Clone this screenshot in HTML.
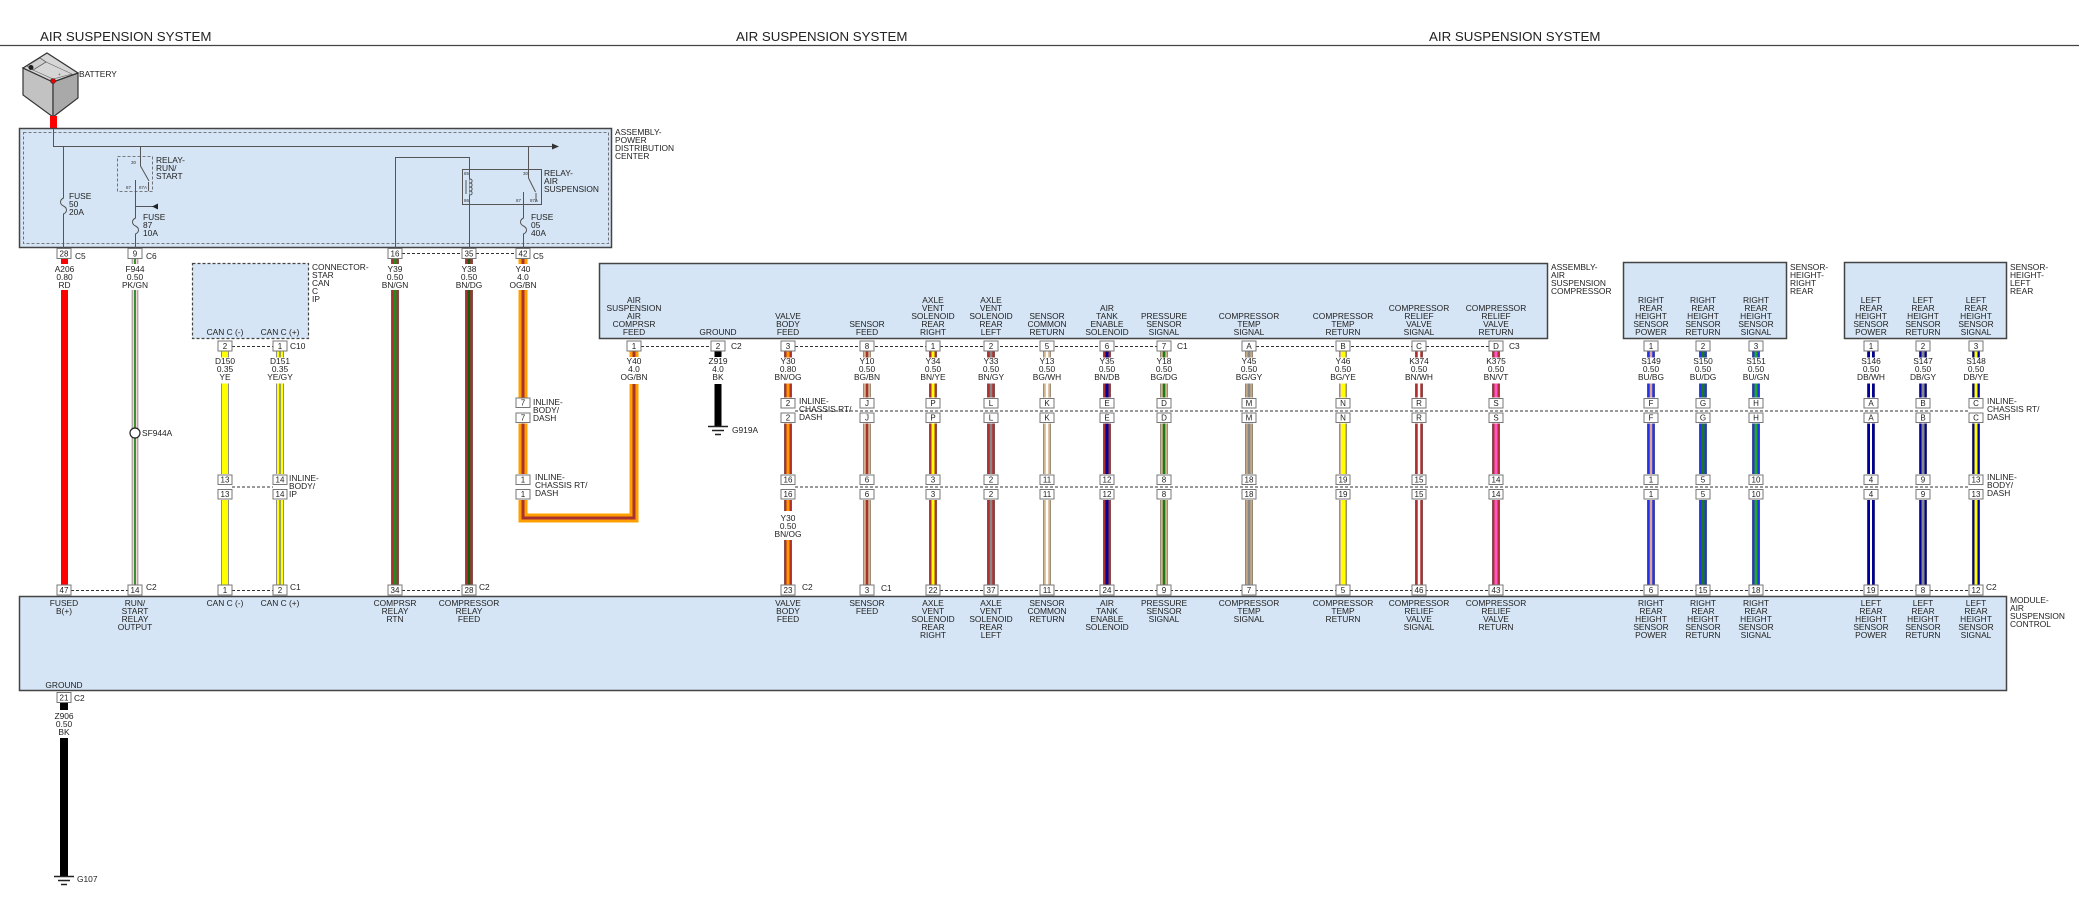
<!DOCTYPE html>
<html><head><meta charset="utf-8"><style>
html,body{margin:0;padding:0;background:#fff;}
body{width:2079px;height:897px;overflow:hidden;}
svg{display:block;}
.t{font-family:"Liberation Sans",Arial,sans-serif;font-size:8.4px;fill:#222;}
.m{text-anchor:middle;}
.p{font-family:"Liberation Sans",Arial,sans-serif;font-size:8px;fill:#222;text-anchor:middle;}
.s{font-family:"Liberation Sans",Arial,sans-serif;font-size:4.5px;fill:#333;}
.ti{font-family:"Liberation Sans",Arial,sans-serif;font-size:13.3px;fill:#222;}
.pb{fill:#fff;stroke:#777;stroke-width:1;}
.ds{stroke:#333;stroke-width:1;stroke-dasharray:3 2;fill:none;}
.bx{fill:#d5e5f5;stroke:#444;stroke-width:1.5;}
.ln{stroke:#555;stroke-width:1;fill:none;}
.o{stroke:#666;stroke-width:8;fill:none;}
</style></head><body>
<svg width="2079" height="897" viewBox="0 0 2079 897" xmlns="http://www.w3.org/2000/svg">
<!-- titles -->
<text class="ti" x="40" y="41">AIR SUSPENSION SYSTEM</text>
<text class="ti" x="736" y="41">AIR SUSPENSION SYSTEM</text>
<text class="ti" x="1429" y="41">AIR SUSPENSION SYSTEM</text>
<line x1="0" y1="45.5" x2="2079" y2="45.5" stroke="#444" stroke-width="1.2"/>

<!-- battery -->
<polygon points="23,68 23,95 53,117 53,82" fill="#c2c2c2" stroke="#333" stroke-width="1.2"/>
<polygon points="53,82 53,117 78,98 78,73" fill="#a9a9a9" stroke="#333" stroke-width="1.2"/>
<polygon points="23,68 47,53 78,73 53,82" fill="#d6d6d6" stroke="#333" stroke-width="1.2"/>
<polygon points="27,66 40,58 46,62 33,70" fill="#cfcfcf" stroke="#444" stroke-width="0.7"/>
<polygon points="33,70 46,62 72,74 53,79" fill="none" stroke="#666" stroke-width="0.6"/>
<circle cx="31" cy="67.5" r="2.5" fill="#222"/>
<circle cx="53" cy="81" r="2.5" fill="#e00" stroke="#333" stroke-width="0.6"/>
<text class="s" x="58" y="76">+</text>
<text class="t" x="79" y="77">BATTERY</text>
<rect x="50" y="116" width="7" height="13" fill="#f00"/>

<!-- PDC -->
<rect class="bx" x="19.5" y="128.5" width="592" height="119" stroke-width="2"/>
<rect x="23.5" y="132.5" width="585" height="111" fill="none" stroke="#555" stroke-width="0.8" stroke-dasharray="3 2"/>
<path class="ln" d="M53.5,129V146.5H553"/>
<polygon points="552,143.5 559,146.5 552,149.5" fill="#333"/>
<path class="ln" d="M63.5,146.5V198c-4,2 -4,6 0,8c4,2 4,6 0,8V249"/>
<text class="t" x="69" y="199">FUSE<tspan x="69" dy="8">50</tspan><tspan x="69" dy="8">20A</tspan></text>
<!-- run/start relay -->
<rect x="117.5" y="156.5" width="35" height="35" fill="none" stroke="#555" stroke-width="0.8" stroke-dasharray="3 2"/>
<path class="ln" d="M140.5,146.5V166L149,181"/>
<path class="ln" d="M135.5,180V218c-4,2 -4,6 0,8c4,2 4,6 0,8V249"/>
<path class="ln" d="M148.5,182V191"/>
<path class="ln" d="M135.5,206.5H153"/>
<polygon points="152,206.5 158,203.5 158,209.5" fill="#222"/>
<text class="s" x="131" y="164">30</text>
<text class="s" x="126" y="189">87</text>
<text class="s" x="139" y="189">87A</text>
<text class="t" x="156" y="163">RELAY-<tspan x="156" dy="8">RUN/</tspan><tspan x="156" dy="8">START</tspan></text>
<text class="t" x="143" y="220">FUSE<tspan x="143" dy="8">87</tspan><tspan x="143" dy="8">10A</tspan></text>
<!-- air suspension relay -->
<rect x="462.5" y="169.5" width="79" height="35" fill="none" stroke="#555" stroke-width="1"/>
<path class="ln" d="M395.5,249V157.5H469.5V249"/>
<path d="M469.5,179c3.5,0 3.5,4 0,4c3.5,0 3.5,4 0,4c3.5,0 3.5,4 0,4c3.5,0 3.5,4 0,4" fill="#d5e5f5" stroke="#555" stroke-width="0.9"/>
<path class="ln" d="M466,180V194" stroke-width="0.8"/>
<path class="ln" d="M528.5,146.5V178L535.5,192"/>
<path class="ln" d="M523.5,192V218c-4,2 -4,6 0,8c4,2 4,6 0,8V249"/>
<path class="ln" d="M536,193V202"/>
<text class="s" x="464" y="175">85</text>
<text class="s" x="464" y="202">86</text>
<text class="s" x="523" y="175">30</text>
<text class="s" x="516" y="202">87</text>
<text class="s" x="530" y="202">87A</text>
<text class="t" x="544" y="176">RELAY-<tspan x="544" dy="8">AIR</tspan><tspan x="544" dy="8">SUSPENSION</tspan></text>
<text class="t" x="531" y="220">FUSE<tspan x="531" dy="8">05</tspan><tspan x="531" dy="8">40A</tspan></text>
<text class="t" x="615" y="135">ASSEMBLY-<tspan x="615" dy="8">POWER</tspan><tspan x="615" dy="8">DISTRIBUTION</tspan><tspan x="615" dy="8">CENTER</tspan></text>

<!-- other boxes -->
<rect x="192.5" y="263.5" width="116" height="75" fill="#d5e5f5" stroke="#444" stroke-width="1.2" stroke-dasharray="3 2"/>
<rect class="bx" x="599.5" y="263.5" width="948" height="75"/>
<rect class="bx" x="1623.5" y="262.5" width="163" height="76"/>
<rect class="bx" x="1844.5" y="262.5" width="162" height="76"/>
<rect class="bx" x="19.5" y="596.5" width="1987" height="94"/>

<!-- ===== WIRES ===== -->
<rect x="61" y="258" width="7" height="6" fill="#f00"/>
<rect x="61" y="290" width="7" height="295" fill="#f00"/>
<g fill="none">
<path d="M135,258V264M135,290V585" stroke="#777" stroke-width="6.5"/>
<path d="M135,258V264M135,290V585" stroke="#f6d6dc" stroke-width="5"/>
<path d="M135,258V264M135,290V585" stroke="#1e8c1e" stroke-width="1.8"/>
</g>
<circle cx="135" cy="433" r="5" fill="#fff" stroke="#222" stroke-width="1.2"/>
<g fill="none">
<path d="M225,351V585M280,351V585" stroke="#666" stroke-width="7.5"/>
<path d="M225,351V585M280,351V585" stroke="#ffff00" stroke-width="6"/>
<path d="M280,351V585" stroke="#888" stroke-width="1.6"/>
</g>
<rect x="215" y="357.5" width="75" height="26" fill="#fff"/>
<rect x="215" y="474" width="75" height="26" fill="#fff"/>
<g fill="none">
<path d="M395,258V264M395,290V585M469,258V264M469,290V585" stroke="#666" stroke-width="8"/>
<path d="M395,258V264M395,290V585M469,258V264M469,290V585" stroke="#a83232" stroke-width="7"/>
<path d="M395,258V264M395,290V585" stroke="#1e8c1e" stroke-width="3"/>
<path d="M469,258V264M469,290V585" stroke="#0f5f0f" stroke-width="2.5"/>
</g>
<g fill="none" stroke-linejoin="miter">
<path d="M523,258V264M523,290V518H634V384M634,351V357" stroke="#ffa000" stroke-width="9"/>
<path d="M523,258V264M523,290V518H634V384M634,351V357" stroke="#a83232" stroke-width="3"/>
</g>
<rect x="515" y="397.5" width="16" height="26" fill="#fff"/>
<rect x="515" y="474" width="16" height="26" fill="#fff"/>
<path d="M718,351V357M718,384V426" stroke="#000" stroke-width="7" fill="none"/>
<path d="M708,426.5H728M712,430.5H724M715,434.5H721" stroke="#222" stroke-width="1.5"/>
<path d="M64,702V710M64,738V876" stroke="#000" stroke-width="8" fill="none"/>
<path d="M54,876.5H74M58,880.5H70M61,884.5H67" stroke="#222" stroke-width="1.5"/>

<g fill="none">
<path class="o" d="M788,351V585M867,351V585M933,351V585M991,351V585M1047,351V585M1107,351V585M1164,351V585M1249,351V585M1343,351V585M1419,351V585M1496,351V585M1651,351V585M1703,351V585M1756,351V585M1871,351V585M1923,351V585M1976,351V585"/>
<path d="M788,351V585M933,351V585M991,351V585M1107,351V585M1419,351V585M1496,351V585" stroke="#b03030" stroke-width="7"/>
<path d="M867,351V585M1047,351V585M1164,351V585M1343,351V585" stroke="#d2b48c" stroke-width="7"/>
<path d="M1249,351V585" stroke="#c4a886" stroke-width="7"/>
<path d="M1651,351V585M1703,351V585M1756,351V585" stroke="#2233ee" stroke-width="7"/>
<path d="M1871,351V585M1923,351V585M1976,351V585" stroke="#000099" stroke-width="7"/>
<path d="M788,351V585" stroke="#ff9900" stroke-width="3"/>
<path d="M867,351V585" stroke="#a83232" stroke-width="2.5"/>
<path d="M933,351V585" stroke="#ffff00" stroke-width="3"/>
<path d="M991,351V585M1249,351V585" stroke="#888" stroke-width="2.5"/>
<path d="M1047,351V585M1419,351V585" stroke="#fff" stroke-width="2.5"/>
<path d="M1107,351V585" stroke="#000099" stroke-width="3"/>
<path d="M1164,351V585" stroke="#1a7a1a" stroke-width="2.5"/>
<path d="M1343,351V585" stroke="#ffff00" stroke-width="4"/>
<path d="M1496,351V585" stroke="#ff55cc" stroke-width="3"/>
<path d="M1651,351V585" stroke="#e0a88c" stroke-width="2.5"/>
<path d="M1703,351V585" stroke="#1a7a1a" stroke-width="3"/>
<path d="M1756,351V585" stroke="#22aa22" stroke-width="3"/>
<path d="M1871,351V585" stroke="#fff" stroke-width="2"/>
<path d="M1923,351V585" stroke="#888" stroke-width="3"/>
<path d="M1976,351V585" stroke="#ffff00" stroke-width="3"/>
</g>
<rect x="770" y="357.5" width="1220" height="26" fill="#fff"/>
<rect x="770" y="397.5" width="1220" height="26" fill="#fff"/>
<rect x="770" y="474" width="1220" height="26" fill="#fff"/>
<rect x="780" y="511" width="16" height="29" fill="#fff"/>

<!-- ===== DASHED CONNECTOR LINES ===== -->
<path class="ds" d="M402,253.5H462M476,253.5H516"/>
<path class="ds" d="M232,346.5H273M641,346.5H711M795,346.5H1157M1256,346.5H1489"/>
<path class="ds" d="M795,411H1969"/>
<path class="ds" d="M232,487H273M795,487H1969"/>
<path class="ds" d="M71,590.5H128M232,590.5H273M402,590.5H462M940,590.5H1969"/>

<!-- ===== PIN BOXES ===== -->
<rect class="pb" x="57" y="248.5" width="14" height="10"/><text class="p" x="64" y="256.5">28</text>
<rect class="pb" x="128" y="248.5" width="14" height="10"/><text class="p" x="135" y="256.5">9</text>
<rect class="pb" x="388" y="248.5" width="14" height="10"/><text class="p" x="395" y="256.5">16</text>
<rect class="pb" x="462" y="248.5" width="14" height="10"/><text class="p" x="469" y="256.5">35</text>
<rect class="pb" x="516" y="248.5" width="14" height="10"/><text class="p" x="523" y="256.5">42</text>
<text class="t" x="75" y="259">C5</text>
<text class="t" x="146" y="259">C6</text>
<text class="t" x="533" y="259">C5</text>

<g>
<rect class="pb" x="218" y="341" width="14" height="10"/><text class="p" x="225" y="349">2</text>
<rect class="pb" x="273" y="341" width="14" height="10"/><text class="p" x="280" y="349">1</text>
<rect class="pb" x="627" y="341" width="14" height="10"/><text class="p" x="634" y="349">1</text>
<rect class="pb" x="711" y="341" width="14" height="10"/><text class="p" x="718" y="349">2</text>
<rect class="pb" x="781" y="341" width="14" height="10"/><text class="p" x="788" y="349">3</text>
<rect class="pb" x="860" y="341" width="14" height="10"/><text class="p" x="867" y="349">8</text>
<rect class="pb" x="926" y="341" width="14" height="10"/><text class="p" x="933" y="349">1</text>
<rect class="pb" x="984" y="341" width="14" height="10"/><text class="p" x="991" y="349">2</text>
<rect class="pb" x="1040" y="341" width="14" height="10"/><text class="p" x="1047" y="349">5</text>
<rect class="pb" x="1100" y="341" width="14" height="10"/><text class="p" x="1107" y="349">6</text>
<rect class="pb" x="1157" y="341" width="14" height="10"/><text class="p" x="1164" y="349">7</text>
<rect class="pb" x="1242" y="341" width="14" height="10"/><text class="p" x="1249" y="349">A</text>
<rect class="pb" x="1336" y="341" width="14" height="10"/><text class="p" x="1343" y="349">B</text>
<rect class="pb" x="1412" y="341" width="14" height="10"/><text class="p" x="1419" y="349">C</text>
<rect class="pb" x="1489" y="341" width="14" height="10"/><text class="p" x="1496" y="349">D</text>
<rect class="pb" x="1644" y="341" width="14" height="10"/><text class="p" x="1651" y="349">1</text>
<rect class="pb" x="1696" y="341" width="14" height="10"/><text class="p" x="1703" y="349">2</text>
<rect class="pb" x="1749" y="341" width="14" height="10"/><text class="p" x="1756" y="349">3</text>
<rect class="pb" x="1864" y="341" width="14" height="10"/><text class="p" x="1871" y="349">1</text>
<rect class="pb" x="1916" y="341" width="14" height="10"/><text class="p" x="1923" y="349">2</text>
<rect class="pb" x="1969" y="341" width="14" height="10"/><text class="p" x="1976" y="349">3</text>
</g>
<text class="t" x="290" y="349">C10</text>
<text class="t" x="731" y="349">C2</text>
<text class="t" x="1177" y="349">C1</text>
<text class="t" x="1509" y="349">C3</text>

<g>
<rect class="pb" x="516" y="398" width="14" height="9.5"/><text class="p" x="523" y="405.5">7</text>
<rect class="pb" x="516" y="413" width="14" height="9.5"/><text class="p" x="523" y="420.5">7</text>
<rect class="pb" x="781" y="398.5" width="14" height="9.5"/><text class="p" x="788" y="406">2</text>
<rect class="pb" x="781" y="413" width="14" height="9.5"/><text class="p" x="788" y="420.5">2</text>
<rect class="pb" x="860" y="398.5" width="14" height="9.5"/><text class="p" x="867" y="406">J</text>
<rect class="pb" x="860" y="413" width="14" height="9.5"/><text class="p" x="867" y="420.5">J</text>
<rect class="pb" x="926" y="398.5" width="14" height="9.5"/><text class="p" x="933" y="406">P</text>
<rect class="pb" x="926" y="413" width="14" height="9.5"/><text class="p" x="933" y="420.5">P</text>
<rect class="pb" x="984" y="398.5" width="14" height="9.5"/><text class="p" x="991" y="406">L</text>
<rect class="pb" x="984" y="413" width="14" height="9.5"/><text class="p" x="991" y="420.5">L</text>
<rect class="pb" x="1040" y="398.5" width="14" height="9.5"/><text class="p" x="1047" y="406">K</text>
<rect class="pb" x="1040" y="413" width="14" height="9.5"/><text class="p" x="1047" y="420.5">K</text>
<rect class="pb" x="1100" y="398.5" width="14" height="9.5"/><text class="p" x="1107" y="406">E</text>
<rect class="pb" x="1100" y="413" width="14" height="9.5"/><text class="p" x="1107" y="420.5">E</text>
<rect class="pb" x="1157" y="398.5" width="14" height="9.5"/><text class="p" x="1164" y="406">D</text>
<rect class="pb" x="1157" y="413" width="14" height="9.5"/><text class="p" x="1164" y="420.5">D</text>
<rect class="pb" x="1242" y="398.5" width="14" height="9.5"/><text class="p" x="1249" y="406">M</text>
<rect class="pb" x="1242" y="413" width="14" height="9.5"/><text class="p" x="1249" y="420.5">M</text>
<rect class="pb" x="1336" y="398.5" width="14" height="9.5"/><text class="p" x="1343" y="406">N</text>
<rect class="pb" x="1336" y="413" width="14" height="9.5"/><text class="p" x="1343" y="420.5">N</text>
<rect class="pb" x="1412" y="398.5" width="14" height="9.5"/><text class="p" x="1419" y="406">R</text>
<rect class="pb" x="1412" y="413" width="14" height="9.5"/><text class="p" x="1419" y="420.5">R</text>
<rect class="pb" x="1489" y="398.5" width="14" height="9.5"/><text class="p" x="1496" y="406">S</text>
<rect class="pb" x="1489" y="413" width="14" height="9.5"/><text class="p" x="1496" y="420.5">S</text>
<rect class="pb" x="1644" y="398.5" width="14" height="9.5"/><text class="p" x="1651" y="406">F</text>
<rect class="pb" x="1644" y="413" width="14" height="9.5"/><text class="p" x="1651" y="420.5">F</text>
<rect class="pb" x="1696" y="398.5" width="14" height="9.5"/><text class="p" x="1703" y="406">G</text>
<rect class="pb" x="1696" y="413" width="14" height="9.5"/><text class="p" x="1703" y="420.5">G</text>
<rect class="pb" x="1749" y="398.5" width="14" height="9.5"/><text class="p" x="1756" y="406">H</text>
<rect class="pb" x="1749" y="413" width="14" height="9.5"/><text class="p" x="1756" y="420.5">H</text>
<rect class="pb" x="1864" y="398.5" width="14" height="9.5"/><text class="p" x="1871" y="406">A</text>
<rect class="pb" x="1864" y="413" width="14" height="9.5"/><text class="p" x="1871" y="420.5">A</text>
<rect class="pb" x="1916" y="398.5" width="14" height="9.5"/><text class="p" x="1923" y="406">B</text>
<rect class="pb" x="1916" y="413" width="14" height="9.5"/><text class="p" x="1923" y="420.5">B</text>
<rect class="pb" x="1969" y="398.5" width="14" height="9.5"/><text class="p" x="1976" y="406">C</text>
<rect class="pb" x="1969" y="413" width="14" height="9.5"/><text class="p" x="1976" y="420.5">C</text>
</g>

<g>
<rect class="pb" x="218" y="475" width="14" height="9.5"/><text class="p" x="225" y="482.5">13</text>
<rect class="pb" x="218" y="489.5" width="14" height="9.5"/><text class="p" x="225" y="497">13</text>
<rect class="pb" x="273" y="475" width="14" height="9.5"/><text class="p" x="280" y="482.5">14</text>
<rect class="pb" x="273" y="489.5" width="14" height="9.5"/><text class="p" x="280" y="497">14</text>
<rect class="pb" x="516" y="475" width="14" height="9.5"/><text class="p" x="523" y="482.5">1</text>
<rect class="pb" x="516" y="489.5" width="14" height="9.5"/><text class="p" x="523" y="497">1</text>
<rect class="pb" x="781" y="475" width="14" height="9.5"/><text class="p" x="788" y="482.5">16</text>
<rect class="pb" x="781" y="489.5" width="14" height="9.5"/><text class="p" x="788" y="497">16</text>
<rect class="pb" x="860" y="475" width="14" height="9.5"/><text class="p" x="867" y="482.5">6</text>
<rect class="pb" x="860" y="489.5" width="14" height="9.5"/><text class="p" x="867" y="497">6</text>
<rect class="pb" x="926" y="475" width="14" height="9.5"/><text class="p" x="933" y="482.5">3</text>
<rect class="pb" x="926" y="489.5" width="14" height="9.5"/><text class="p" x="933" y="497">3</text>
<rect class="pb" x="984" y="475" width="14" height="9.5"/><text class="p" x="991" y="482.5">2</text>
<rect class="pb" x="984" y="489.5" width="14" height="9.5"/><text class="p" x="991" y="497">2</text>
<rect class="pb" x="1040" y="475" width="14" height="9.5"/><text class="p" x="1047" y="482.5">11</text>
<rect class="pb" x="1040" y="489.5" width="14" height="9.5"/><text class="p" x="1047" y="497">11</text>
<rect class="pb" x="1100" y="475" width="14" height="9.5"/><text class="p" x="1107" y="482.5">12</text>
<rect class="pb" x="1100" y="489.5" width="14" height="9.5"/><text class="p" x="1107" y="497">12</text>
<rect class="pb" x="1157" y="475" width="14" height="9.5"/><text class="p" x="1164" y="482.5">8</text>
<rect class="pb" x="1157" y="489.5" width="14" height="9.5"/><text class="p" x="1164" y="497">8</text>
<rect class="pb" x="1242" y="475" width="14" height="9.5"/><text class="p" x="1249" y="482.5">18</text>
<rect class="pb" x="1242" y="489.5" width="14" height="9.5"/><text class="p" x="1249" y="497">18</text>
<rect class="pb" x="1336" y="475" width="14" height="9.5"/><text class="p" x="1343" y="482.5">19</text>
<rect class="pb" x="1336" y="489.5" width="14" height="9.5"/><text class="p" x="1343" y="497">19</text>
<rect class="pb" x="1412" y="475" width="14" height="9.5"/><text class="p" x="1419" y="482.5">15</text>
<rect class="pb" x="1412" y="489.5" width="14" height="9.5"/><text class="p" x="1419" y="497">15</text>
<rect class="pb" x="1489" y="475" width="14" height="9.5"/><text class="p" x="1496" y="482.5">14</text>
<rect class="pb" x="1489" y="489.5" width="14" height="9.5"/><text class="p" x="1496" y="497">14</text>
<rect class="pb" x="1644" y="475" width="14" height="9.5"/><text class="p" x="1651" y="482.5">1</text>
<rect class="pb" x="1644" y="489.5" width="14" height="9.5"/><text class="p" x="1651" y="497">1</text>
<rect class="pb" x="1696" y="475" width="14" height="9.5"/><text class="p" x="1703" y="482.5">5</text>
<rect class="pb" x="1696" y="489.5" width="14" height="9.5"/><text class="p" x="1703" y="497">5</text>
<rect class="pb" x="1749" y="475" width="14" height="9.5"/><text class="p" x="1756" y="482.5">10</text>
<rect class="pb" x="1749" y="489.5" width="14" height="9.5"/><text class="p" x="1756" y="497">10</text>
<rect class="pb" x="1864" y="475" width="14" height="9.5"/><text class="p" x="1871" y="482.5">4</text>
<rect class="pb" x="1864" y="489.5" width="14" height="9.5"/><text class="p" x="1871" y="497">4</text>
<rect class="pb" x="1916" y="475" width="14" height="9.5"/><text class="p" x="1923" y="482.5">9</text>
<rect class="pb" x="1916" y="489.5" width="14" height="9.5"/><text class="p" x="1923" y="497">9</text>
<rect class="pb" x="1969" y="475" width="14" height="9.5"/><text class="p" x="1976" y="482.5">13</text>
<rect class="pb" x="1969" y="489.5" width="14" height="9.5"/><text class="p" x="1976" y="497">13</text>
</g>

<g>
<rect class="pb" x="57" y="585" width="14" height="10"/><text class="p" x="64" y="593">47</text>
<rect class="pb" x="128" y="585" width="14" height="10"/><text class="p" x="135" y="593">14</text>
<rect class="pb" x="218" y="585" width="14" height="10"/><text class="p" x="225" y="593">1</text>
<rect class="pb" x="273" y="585" width="14" height="10"/><text class="p" x="280" y="593">2</text>
<rect class="pb" x="388" y="585" width="14" height="10"/><text class="p" x="395" y="593">34</text>
<rect class="pb" x="462" y="585" width="14" height="10"/><text class="p" x="469" y="593">28</text>
<rect class="pb" x="781" y="585" width="14" height="10"/><text class="p" x="788" y="593">23</text>
<rect class="pb" x="860" y="585" width="14" height="10"/><text class="p" x="867" y="593">3</text>
<rect class="pb" x="926" y="585" width="14" height="10"/><text class="p" x="933" y="593">22</text>
<rect class="pb" x="984" y="585" width="14" height="10"/><text class="p" x="991" y="593">37</text>
<rect class="pb" x="1040" y="585" width="14" height="10"/><text class="p" x="1047" y="593">11</text>
<rect class="pb" x="1100" y="585" width="14" height="10"/><text class="p" x="1107" y="593">24</text>
<rect class="pb" x="1157" y="585" width="14" height="10"/><text class="p" x="1164" y="593">9</text>
<rect class="pb" x="1242" y="585" width="14" height="10"/><text class="p" x="1249" y="593">7</text>
<rect class="pb" x="1336" y="585" width="14" height="10"/><text class="p" x="1343" y="593">5</text>
<rect class="pb" x="1412" y="585" width="14" height="10"/><text class="p" x="1419" y="593">46</text>
<rect class="pb" x="1489" y="585" width="14" height="10"/><text class="p" x="1496" y="593">43</text>
<rect class="pb" x="1644" y="585" width="14" height="10"/><text class="p" x="1651" y="593">6</text>
<rect class="pb" x="1696" y="585" width="14" height="10"/><text class="p" x="1703" y="593">15</text>
<rect class="pb" x="1749" y="585" width="14" height="10"/><text class="p" x="1756" y="593">18</text>
<rect class="pb" x="1864" y="585" width="14" height="10"/><text class="p" x="1871" y="593">19</text>
<rect class="pb" x="1916" y="585" width="14" height="10"/><text class="p" x="1923" y="593">8</text>
<rect class="pb" x="1969" y="585" width="14" height="10"/><text class="p" x="1976" y="593">12</text>
<rect class="pb" x="57" y="692.5" width="14" height="10"/><text class="p" x="64" y="700.5">21</text>
</g>
<text class="t" x="146" y="590">C2</text>
<text class="t" x="290" y="590">C1</text>
<text class="t" x="479" y="590">C2</text>
<text class="t" x="802" y="590">C2</text>
<text class="t" x="881" y="591">C1</text>
<text class="t" x="1986" y="590">C2</text>
<text class="t" x="74" y="701">C2</text>

<!-- ===== WIRE LABELS ===== -->
<g class="t m">
<text x="64.5" y="272">A206<tspan x="64.5" dy="8">0.80</tspan><tspan x="64.5" dy="8">RD</tspan></text>
<text x="135" y="272">F944<tspan x="135" dy="8">0.50</tspan><tspan x="135" dy="8">PK/GN</tspan></text>
<text x="395" y="272">Y39<tspan x="395" dy="8">0.50</tspan><tspan x="395" dy="8">BN/GN</tspan></text>
<text x="469" y="272">Y38<tspan x="469" dy="8">0.50</tspan><tspan x="469" dy="8">BN/DG</tspan></text>
<text x="523" y="272">Y40<tspan x="523" dy="8">4.0</tspan><tspan x="523" dy="8">OG/BN</tspan></text>
<text x="225" y="364">D150<tspan x="225" dy="8">0.35</tspan><tspan x="225" dy="8">YE</tspan></text>
<text x="280" y="364">D151<tspan x="280" dy="8">0.35</tspan><tspan x="280" dy="8">YE/GY</tspan></text>
<text x="634" y="364">Y40<tspan x="634" dy="8">4.0</tspan><tspan x="634" dy="8">OG/BN</tspan></text>
<text x="718" y="364">Z919<tspan x="718" dy="8">4.0</tspan><tspan x="718" dy="8">BK</tspan></text>
<text x="788" y="364">Y30<tspan x="788" dy="8">0.80</tspan><tspan x="788" dy="8">BN/OG</tspan></text>
<text x="867" y="364">Y10<tspan x="867" dy="8">0.50</tspan><tspan x="867" dy="8">BG/BN</tspan></text>
<text x="933" y="364">Y34<tspan x="933" dy="8">0.50</tspan><tspan x="933" dy="8">BN/YE</tspan></text>
<text x="991" y="364">Y33<tspan x="991" dy="8">0.50</tspan><tspan x="991" dy="8">BN/GY</tspan></text>
<text x="1047" y="364">Y13<tspan x="1047" dy="8">0.50</tspan><tspan x="1047" dy="8">BG/WH</tspan></text>
<text x="1107" y="364">Y35<tspan x="1107" dy="8">0.50</tspan><tspan x="1107" dy="8">BN/DB</tspan></text>
<text x="1164" y="364">Y18<tspan x="1164" dy="8">0.50</tspan><tspan x="1164" dy="8">BG/DG</tspan></text>
<text x="1249" y="364">Y45<tspan x="1249" dy="8">0.50</tspan><tspan x="1249" dy="8">BG/GY</tspan></text>
<text x="1343" y="364">Y46<tspan x="1343" dy="8">0.50</tspan><tspan x="1343" dy="8">BG/YE</tspan></text>
<text x="1419" y="364">K374<tspan x="1419" dy="8">0.50</tspan><tspan x="1419" dy="8">BN/WH</tspan></text>
<text x="1496" y="364">K375<tspan x="1496" dy="8">0.50</tspan><tspan x="1496" dy="8">BN/VT</tspan></text>
<text x="1651" y="364">S149<tspan x="1651" dy="8">0.50</tspan><tspan x="1651" dy="8">BU/BG</tspan></text>
<text x="1703" y="364">S150<tspan x="1703" dy="8">0.50</tspan><tspan x="1703" dy="8">BU/DG</tspan></text>
<text x="1756" y="364">S151<tspan x="1756" dy="8">0.50</tspan><tspan x="1756" dy="8">BU/GN</tspan></text>
<text x="1871" y="364">S146<tspan x="1871" dy="8">0.50</tspan><tspan x="1871" dy="8">DB/WH</tspan></text>
<text x="1923" y="364">S147<tspan x="1923" dy="8">0.50</tspan><tspan x="1923" dy="8">DB/GY</tspan></text>
<text x="1976" y="364">S148<tspan x="1976" dy="8">0.50</tspan><tspan x="1976" dy="8">DB/YE</tspan></text>
<text x="788" y="521">Y30<tspan x="788" dy="8">0.50</tspan><tspan x="788" dy="8">BN/OG</tspan></text>
<text x="64" y="719">Z906<tspan x="64" dy="8">0.50</tspan><tspan x="64" dy="8">BK</tspan></text>
</g>

<text class="t" x="142" y="436">SF944A</text>
<text class="t" x="732" y="433">G919A</text>
<text class="t" x="77" y="882">G107</text>
<text class="t" x="312" y="270">CONNECTOR-<tspan x="312" dy="8">STAR</tspan><tspan x="312" dy="8">CAN</tspan><tspan x="312" dy="8">C</tspan><tspan x="312" dy="8">IP</tspan></text>
<text class="t m" x="225" y="335">CAN C (-)</text>
<text class="t m" x="280" y="335">CAN C (+)</text>
<text class="t" x="289" y="481">INLINE-<tspan x="289" dy="8">BODY/</tspan><tspan x="289" dy="8">IP</tspan></text>
<text class="t" x="533" y="405">INLINE-<tspan x="533" dy="8">BODY/</tspan><tspan x="533" dy="8">DASH</tspan></text>
<text class="t" x="535" y="480">INLINE-<tspan x="535" dy="8">CHASSIS RT/</tspan><tspan x="535" dy="8">DASH</tspan></text>
<text class="t" x="799" y="404">INLINE-<tspan x="799" dy="8">CHASSIS RT/</tspan><tspan x="799" dy="8">DASH</tspan></text>
<text class="t" x="1987" y="404">INLINE-<tspan x="1987" dy="8">CHASSIS RT/</tspan><tspan x="1987" dy="8">DASH</tspan></text>
<text class="t" x="1987" y="480">INLINE-<tspan x="1987" dy="8">BODY/</tspan><tspan x="1987" dy="8">DASH</tspan></text>
<text class="t" x="1551" y="270">ASSEMBLY-<tspan x="1551" dy="8">AIR</tspan><tspan x="1551" dy="8">SUSPENSION</tspan><tspan x="1551" dy="8">COMPRESSOR</tspan></text>
<text class="t" x="1790" y="270">SENSOR-<tspan x="1790" dy="8">HEIGHT-</tspan><tspan x="1790" dy="8">RIGHT</tspan><tspan x="1790" dy="8">REAR</tspan></text>
<text class="t" x="2010" y="270">SENSOR-<tspan x="2010" dy="8">HEIGHT-</tspan><tspan x="2010" dy="8">LEFT</tspan><tspan x="2010" dy="8">REAR</tspan></text>
<text class="t" x="2010" y="603">MODULE-<tspan x="2010" dy="8">AIR</tspan><tspan x="2010" dy="8">SUSPENSION</tspan><tspan x="2010" dy="8">CONTROL</tspan></text>

<g class="t m">
<text x="634" y="303">AIR<tspan x="634" dy="8">SUSPENSION</tspan><tspan x="634" dy="8">AIR</tspan><tspan x="634" dy="8">COMPRSR</tspan><tspan x="634" dy="8">FEED</tspan></text>
<text x="718" y="335">GROUND</text>
<text x="788" y="319">VALVE<tspan x="788" dy="8">BODY</tspan><tspan x="788" dy="8">FEED</tspan></text>
<text x="867" y="327">SENSOR<tspan x="867" dy="8">FEED</tspan></text>
<text x="933" y="303">AXLE<tspan x="933" dy="8">VENT</tspan><tspan x="933" dy="8">SOLENOID</tspan><tspan x="933" dy="8">REAR</tspan><tspan x="933" dy="8">RIGHT</tspan></text>
<text x="991" y="303">AXLE<tspan x="991" dy="8">VENT</tspan><tspan x="991" dy="8">SOLENOID</tspan><tspan x="991" dy="8">REAR</tspan><tspan x="991" dy="8">LEFT</tspan></text>
<text x="1047" y="319">SENSOR<tspan x="1047" dy="8">COMMON</tspan><tspan x="1047" dy="8">RETURN</tspan></text>
<text x="1107" y="311">AIR<tspan x="1107" dy="8">TANK</tspan><tspan x="1107" dy="8">ENABLE</tspan><tspan x="1107" dy="8">SOLENOID</tspan></text>
<text x="1164" y="319">PRESSURE<tspan x="1164" dy="8">SENSOR</tspan><tspan x="1164" dy="8">SIGNAL</tspan></text>
<text x="1249" y="319">COMPRESSOR<tspan x="1249" dy="8">TEMP</tspan><tspan x="1249" dy="8">SIGNAL</tspan></text>
<text x="1343" y="319">COMPRESSOR<tspan x="1343" dy="8">TEMP</tspan><tspan x="1343" dy="8">RETURN</tspan></text>
<text x="1419" y="311">COMPRESSOR<tspan x="1419" dy="8">RELIEF</tspan><tspan x="1419" dy="8">VALVE</tspan><tspan x="1419" dy="8">SIGNAL</tspan></text>
<text x="1496" y="311">COMPRESSOR<tspan x="1496" dy="8">RELIEF</tspan><tspan x="1496" dy="8">VALVE</tspan><tspan x="1496" dy="8">RETURN</tspan></text>
<text x="1651" y="303">RIGHT<tspan x="1651" dy="8">REAR</tspan><tspan x="1651" dy="8">HEIGHT</tspan><tspan x="1651" dy="8">SENSOR</tspan><tspan x="1651" dy="8">POWER</tspan></text>
<text x="1703" y="303">RIGHT<tspan x="1703" dy="8">REAR</tspan><tspan x="1703" dy="8">HEIGHT</tspan><tspan x="1703" dy="8">SENSOR</tspan><tspan x="1703" dy="8">RETURN</tspan></text>
<text x="1756" y="303">RIGHT<tspan x="1756" dy="8">REAR</tspan><tspan x="1756" dy="8">HEIGHT</tspan><tspan x="1756" dy="8">SENSOR</tspan><tspan x="1756" dy="8">SIGNAL</tspan></text>
<text x="1871" y="303">LEFT<tspan x="1871" dy="8">REAR</tspan><tspan x="1871" dy="8">HEIGHT</tspan><tspan x="1871" dy="8">SENSOR</tspan><tspan x="1871" dy="8">POWER</tspan></text>
<text x="1923" y="303">LEFT<tspan x="1923" dy="8">REAR</tspan><tspan x="1923" dy="8">HEIGHT</tspan><tspan x="1923" dy="8">SENSOR</tspan><tspan x="1923" dy="8">RETURN</tspan></text>
<text x="1976" y="303">LEFT<tspan x="1976" dy="8">REAR</tspan><tspan x="1976" dy="8">HEIGHT</tspan><tspan x="1976" dy="8">SENSOR</tspan><tspan x="1976" dy="8">SIGNAL</tspan></text>
</g>

<g class="t m">
<text x="64" y="606">FUSED<tspan x="64" dy="8">B(+)</tspan></text>
<text x="135" y="606">RUN/<tspan x="135" dy="8">START</tspan><tspan x="135" dy="8">RELAY</tspan><tspan x="135" dy="8">OUTPUT</tspan></text>
<text x="225" y="606">CAN C (-)</text>
<text x="280" y="606">CAN C (+)</text>
<text x="395" y="606">COMPRSR<tspan x="395" dy="8">RELAY</tspan><tspan x="395" dy="8">RTN</tspan></text>
<text x="469" y="606">COMPRESSOR<tspan x="469" dy="8">RELAY</tspan><tspan x="469" dy="8">FEED</tspan></text>
<text x="788" y="606">VALVE<tspan x="788" dy="8">BODY</tspan><tspan x="788" dy="8">FEED</tspan></text>
<text x="867" y="606">SENSOR<tspan x="867" dy="8">FEED</tspan></text>
<text x="933" y="606">AXLE<tspan x="933" dy="8">VENT</tspan><tspan x="933" dy="8">SOLENOID</tspan><tspan x="933" dy="8">REAR</tspan><tspan x="933" dy="8">RIGHT</tspan></text>
<text x="991" y="606">AXLE<tspan x="991" dy="8">VENT</tspan><tspan x="991" dy="8">SOLENOID</tspan><tspan x="991" dy="8">REAR</tspan><tspan x="991" dy="8">LEFT</tspan></text>
<text x="1047" y="606">SENSOR<tspan x="1047" dy="8">COMMON</tspan><tspan x="1047" dy="8">RETURN</tspan></text>
<text x="1107" y="606">AIR<tspan x="1107" dy="8">TANK</tspan><tspan x="1107" dy="8">ENABLE</tspan><tspan x="1107" dy="8">SOLENOID</tspan></text>
<text x="1164" y="606">PRESSURE<tspan x="1164" dy="8">SENSOR</tspan><tspan x="1164" dy="8">SIGNAL</tspan></text>
<text x="1249" y="606">COMPRESSOR<tspan x="1249" dy="8">TEMP</tspan><tspan x="1249" dy="8">SIGNAL</tspan></text>
<text x="1343" y="606">COMPRESSOR<tspan x="1343" dy="8">TEMP</tspan><tspan x="1343" dy="8">RETURN</tspan></text>
<text x="1419" y="606">COMPRESSOR<tspan x="1419" dy="8">RELIEF</tspan><tspan x="1419" dy="8">VALVE</tspan><tspan x="1419" dy="8">SIGNAL</tspan></text>
<text x="1496" y="606">COMPRESSOR<tspan x="1496" dy="8">RELIEF</tspan><tspan x="1496" dy="8">VALVE</tspan><tspan x="1496" dy="8">RETURN</tspan></text>
<text x="1651" y="606">RIGHT<tspan x="1651" dy="8">REAR</tspan><tspan x="1651" dy="8">HEIGHT</tspan><tspan x="1651" dy="8">SENSOR</tspan><tspan x="1651" dy="8">POWER</tspan></text>
<text x="1703" y="606">RIGHT<tspan x="1703" dy="8">REAR</tspan><tspan x="1703" dy="8">HEIGHT</tspan><tspan x="1703" dy="8">SENSOR</tspan><tspan x="1703" dy="8">RETURN</tspan></text>
<text x="1756" y="606">RIGHT<tspan x="1756" dy="8">REAR</tspan><tspan x="1756" dy="8">HEIGHT</tspan><tspan x="1756" dy="8">SENSOR</tspan><tspan x="1756" dy="8">SIGNAL</tspan></text>
<text x="1871" y="606">LEFT<tspan x="1871" dy="8">REAR</tspan><tspan x="1871" dy="8">HEIGHT</tspan><tspan x="1871" dy="8">SENSOR</tspan><tspan x="1871" dy="8">POWER</tspan></text>
<text x="1923" y="606">LEFT<tspan x="1923" dy="8">REAR</tspan><tspan x="1923" dy="8">HEIGHT</tspan><tspan x="1923" dy="8">SENSOR</tspan><tspan x="1923" dy="8">RETURN</tspan></text>
<text x="1976" y="606">LEFT<tspan x="1976" dy="8">REAR</tspan><tspan x="1976" dy="8">HEIGHT</tspan><tspan x="1976" dy="8">SENSOR</tspan><tspan x="1976" dy="8">SIGNAL</tspan></text>
<text x="64" y="688">GROUND</text>
</g>
</svg>
</body></html>
